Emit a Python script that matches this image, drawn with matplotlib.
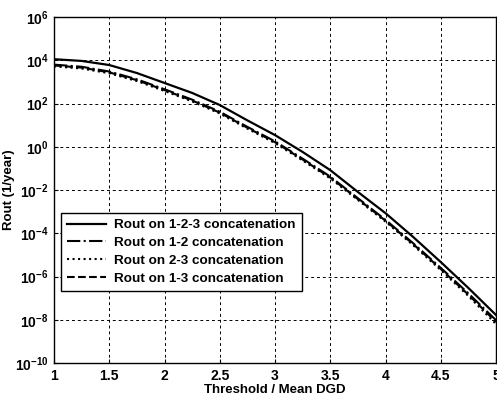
import matplotlib
matplotlib.use("Agg")
import matplotlib.pyplot as plt
import numpy as np

# threshold / mean DGD
x = [1.0, 1.25, 1.5, 1.75, 2.0, 2.25, 2.5, 2.75, 3.0, 3.25, 3.5, 3.75, 4.0, 4.25, 4.5, 4.75, 5.0]
# log10 of Rout (1/year)
log_r123 = [4.05, 3.97, 3.78, 3.41, 2.95, 2.49, 1.93, 1.22, 0.54, -0.24, -1.08, -2.09, -3.07, -4.17, -5.33, -6.53, -7.78]
log_r12 = [3.80, 3.70, 3.48, 3.12, 2.66, 2.18, 1.62, 0.92, 0.25, -0.55, -1.38, -2.38, -3.38, -4.46, -5.60, -6.78, -8.02]
log_r23 = [3.72, 3.62, 3.40, 3.04, 2.58, 2.10, 1.54, 0.84, 0.17, -0.63, -1.46, -2.46, -3.46, -4.55, -5.70, -6.90, -8.20]
log_r13 = [3.76, 3.66, 3.44, 3.08, 2.62, 2.14, 1.58, 0.88, 0.21, -0.59, -1.42, -2.42, -3.42, -4.50, -5.65, -6.84, -8.10]

xticks = [1, 1.5, 2, 2.5, 3, 3.5, 4, 4.5, 5]
yexp = [-10, -8, -6, -4, -2, 0, 2, 4, 6]

plt.rcParams['font.family'] = ['Liberation Sans', 'DejaVu Sans']
plt.rcParams['font.weight'] = 'bold'
plt.rcParams['mathtext.fontset'] = 'custom'
plt.rcParams['mathtext.rm'] = 'Liberation Sans:bold'
plt.rcParams['mathtext.bf'] = 'Liberation Sans:bold'

fig = plt.figure(figsize=(4.97, 3.97), dpi=100)
ax = fig.add_axes([0.1087, 0.0856, 0.8893, 0.8715])

ax.semilogy(x, 10.0 ** np.array(log_r123), color='black', lw=1.6, ls='-',
            label='Rout on 1-2-3 concatenation')
ax.semilogy(x, 10.0 ** np.array(log_r12), color='black', lw=1.5, ls='-.',
            label='Rout on 1-2 concatenation')
ax.semilogy(x, 10.0 ** np.array(log_r23), color='black', lw=1.5, ls=':',
            label='Rout on 2-3 concatenation')
ax.semilogy(x, 10.0 ** np.array(log_r13), color='black', lw=1.5, ls='--',
            label='Rout on 1-3 concatenation')

ax.set_xlim(1, 5)
ax.set_ylim(1e-10, 1e6)
ax.set_xticks(xticks)
ax.set_xticklabels([('%g' % t) for t in xticks], fontsize=10, fontweight='bold')
ax.set_yticks([10.0 ** e for e in yexp])
ax.set_yticklabels([r'$\mathbf{10^{%d}}$' % e for e in yexp], fontsize=10)
ax.yaxis.set_minor_locator(matplotlib.ticker.NullLocator())
ax.tick_params(direction='in', length=3, width=0.8, colors='black', pad=4)

ax.grid(True, color='black', ls=(0, (3, 3)), lw=0.7)
for s in ax.spines.values():
    s.set_linewidth(1.0)
    s.set_color('black')

ax.set_xlabel('Threshold / Mean DGD', fontsize=9.5, fontweight='bold', labelpad=1)
ax.set_ylabel('Rout (1/year)', fontsize=9.5, fontweight='bold', labelpad=0)

leg = ax.legend(loc='upper left', bbox_to_anchor=(0.016, 0.434), borderaxespad=0,
                fancybox=False, edgecolor='black', framealpha=1,
                prop={'size': 9.7, 'weight': 'bold'}, handlelength=2.9,
                handletextpad=0.6, labelspacing=0.4, borderpad=0.45)
leg.get_frame().set_linewidth(1.0)

fig.savefig('out.png', dpi=100)
